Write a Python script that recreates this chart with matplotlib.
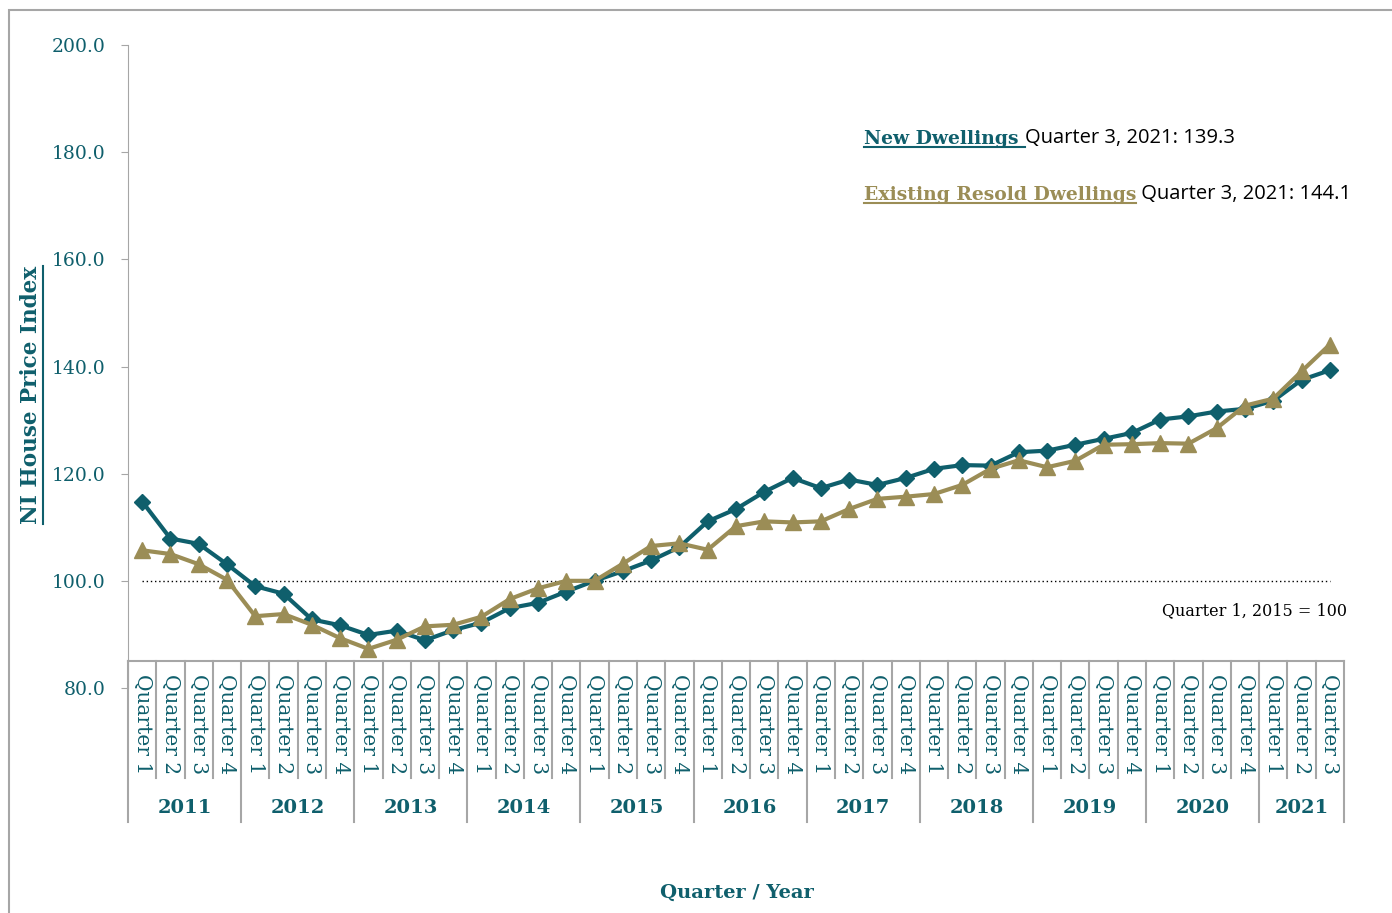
import matplotlib
matplotlib.use("Agg")
import matplotlib.pyplot as plt
from matplotlib.patches import Rectangle
from matplotlib.lines import Line2D

# --- data ---
years = ["2011", "2012", "2013", "2014", "2015", "2016", "2017", "2018", "2019", "2020", "2021"]
quarters = ["Quarter 1", "Quarter 2", "Quarter 3", "Quarter 4"]
quarter_labels = [q for y in years for q in quarters][:43]

new_dwellings = [
    114.8, 107.9, 106.9, 103.1,
    99.0, 97.6, 92.8, 91.7,
    89.9, 90.7, 88.9, 90.8,
    92.2, 94.9, 95.9, 98.0,
    100.0, 101.8, 103.8, 106.3,
    111.1, 113.4, 116.6, 119.2,
    117.3, 118.9, 117.9, 119.2,
    120.9, 121.6, 121.5, 124.0,
    124.3, 125.4, 126.5, 127.6,
    130.1, 130.7, 131.6, 132.1,
    133.6, 137.5, 139.3,
]
existing_resold = [
    105.7, 105.0, 103.1, 100.2,
    93.4, 93.8, 91.8, 89.3,
    87.3, 89.0, 91.5, 91.8,
    93.3, 96.6, 98.6, 100.0,
    100.0, 103.2, 106.5, 107.0,
    105.8, 110.2, 111.1, 110.9,
    111.1, 113.4, 115.3, 115.7,
    116.2, 117.9, 120.9, 122.5,
    121.2, 122.4, 125.4, 125.5,
    125.7, 125.6, 128.5, 132.7,
    134.0, 139.1, 144.1,
]

TEAL = "#0F5F6C"
GOLD = "#9B8D56"
GRAY = "#A6A6A6"
SERIF = ["DejaVu Serif"]

fig = plt.figure(figsize=(13.92, 9.13), dpi=100)
W, H = 1392, 913
# chart area border
fig.patches.append(Rectangle((9 / W, -0.1), 1.2, 1 - 10 / H + 0.1, transform=fig.transFigure,
                             fill=False, edgecolor=GRAY, linewidth=1.5))

ax = fig.add_axes([128 / W, 1 - 688 / H, (1344 - 128) / W, (688 - 45) / H])
x = list(range(len(new_dwellings)))

ax.plot(x, new_dwellings, color=TEAL, lw=3, marker="D", ms=8, zorder=3)
ax.plot(x, existing_resold, color=GOLD, lw=3, marker="^", ms=11, zorder=4)
ax.plot([x[0], x[-1]], [100, 100], color="black", lw=1, ls=(0, (1, 2)), zorder=2)

ax.set_xlim(-0.5, len(x) - 0.5)
ax.set_ylim(80, 200)
ax.set_yticks(range(80, 201, 20))
ax.set_yticklabels([f"{v:.1f}" for v in range(80, 201, 20)], fontsize=13.5, color=TEAL, family=SERIF)
ax.tick_params(axis="y", direction="out", length=5, color=GRAY, pad=11)

for s in ["top", "right"]:
    ax.spines[s].set_visible(False)
ax.spines["left"].set_color(GRAY)
ax.spines["bottom"].set_color(GRAY)
ax.spines["bottom"].set_linewidth(1.5)
ax.spines["bottom"].set_position(("data", 85))

ax.set_xticks(x)
ax.set_xticklabels(quarter_labels, rotation=-90, fontsize=14.5, color=TEAL, family=SERIF,
                   va="top", ha="center")
ax.tick_params(axis="x", length=0, pad=9)

# category separators
tr = ax.get_xaxis_transform()
y_line = 5 / 120
y_q = -(778 - 688) / 643
y_y = -(822 - 688) / 643
for k in range(len(x) + 1):
    b = k - 0.5
    bottom = y_y if (k % 4 == 0 or k == len(x)) else y_q
    ax.plot([b, b], [y_line, bottom], transform=tr, color=GRAY, lw=1.5, clip_on=False)

y_year = -(808 - 688) / 643
for i, yr in enumerate(years):
    start = i * 4
    end = min(start + 4, len(x))
    ax.text((start + end - 1) / 2, y_year, yr, transform=tr, ha="center", va="center",
            fontsize=14, fontweight="bold", color=TEAL, family=SERIF)

fig.text(737 / W, 1 - 893 / H, "Quarter / Year", ha="center", va="center",
         fontsize=14, fontweight="bold", color=TEAL, family=SERIF)
ylab = fig.text(31 / W, 1 - 395 / H, "NI House Price Index", rotation=90, ha="center", va="center",
                fontsize=15.5, fontweight="bold", color=TEAL, family=SERIF)

ax.text(1347 / W, 1 - 611 / H, "Quarter 1, 2015 = 100", transform=fig.transFigure,
        ha="right", va="center", fontsize=11.5, color="black", family=SERIF)

t1 = fig.text(864 / W, 1 - 144 / H, "New Dwellings ", ha="left", va="baseline",
              fontsize=13.5, fontweight="bold", color=TEAL, family=SERIF)
ax.annotate("Quarter 3, 2021: 139.3", xy=(1, 0), xycoords=t1, va="bottom", ha="left",
            fontsize=14.5, color="black", family=["Open Sans"], annotation_clip=False)
t2 = fig.text(864 / W, 1 - 200 / H, "Existing Resold Dwellings", ha="left", va="baseline",
              fontsize=13.5, fontweight="bold", color=GOLD, family=SERIF)
ax.annotate(" Quarter 3, 2021: 144.1", xy=(1, 0), xycoords=t2, va="bottom", ha="left",
            fontsize=14.5, color="black", family=["Open Sans"], annotation_clip=False)

# underlines
fig.canvas.draw()
r = fig.canvas.get_renderer()
for t, c in [(t1, TEAL), (t2, GOLD)]:
    bb = t.get_window_extent(r)
    yy = bb.y0 + 1
    fig.add_artist(Line2D([bb.x0 / W, bb.x1 / W], [yy / H, yy / H], transform=fig.transFigure,
                          color=c, lw=1.5))
bb = ylab.get_window_extent(r)
xx = bb.x1 + 1
fig.add_artist(Line2D([xx / W, xx / W], [bb.y0 / H, bb.y1 / H], transform=fig.transFigure,
                      color=TEAL, lw=1.5))

fig.savefig("out.png", dpi=100)
